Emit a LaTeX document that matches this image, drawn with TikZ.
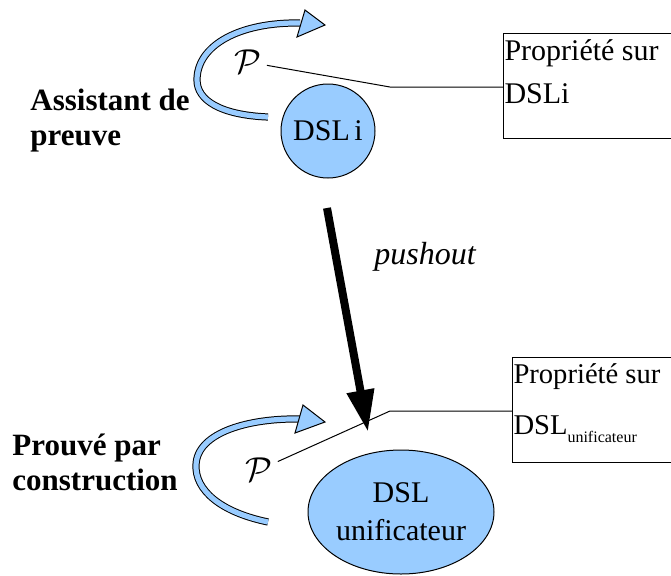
\documentclass[tikz,border=0pt]{standalone}
\usepackage{fontspec}
\setmainfont{Liberation Serif}
\usetikzlibrary{shapes.geometric,arrows.meta,positioning}
\definecolor{dslblue}{RGB}{153,204,255}

\begin{document}
\begin{tikzpicture}[x=0.5pt,y=-0.5pt,
  dsl/.style={draw,line width=0.5pt,fill=dslblue,align=center,inner sep=0pt,font=\fontsize{15}{19}\selectfont},
  propbox/.style={draw,line width=0.5pt,anchor=north west,inner xsep=0.5pt,inner ysep=3pt,font=\fontsize{15}{21.5}\selectfont},
  side/.style={anchor=base west,align=left,inner sep=0pt,font=\bfseries\fontsize{15.5}{17.5}\selectfont},
  prop/.style={inner sep=2.5pt,font=\fontsize{18}{22}\selectfont},
  link/.style={line width=0.5pt},
  bluebend/.style={double=dslblue,double distance=2.6pt,line width=0.5pt}]
\useasboundingbox (0,0) rectangle (671,575);
\begin{scope}
\clip (0,0) rectangle (671,575);
\node[side] (assist) at (30,145) {Assistant de\\preuve};
\node[side] (prouve) at (12,490) {Prouvé par\\construction};
\node[dsl,circle,minimum size=47pt] (dsli) at (328,131) {DSL\hspace{0.15em}i};
\node[dsl,ellipse,minimum width=93pt,minimum height=62pt] (dslu) at (401,512) {DSL\\unificateur};
\node[prop] (ptop) at (248,62) {$\mathcal{P}$};
\node[prop] (pbot) at (259,470) {$\mathcal{P}$};
\node[propbox] (propi) at (503,33) {\parbox[t][46.5pt][t]{86pt}{Propriété sur\\DSLi}};
\node[propbox,font=\fontsize{14.3}{21.5}\selectfont] (propu) at (512,357) {\parbox[t][46.5pt][t]{86pt}{Propriété sur\\[4pt]DSL\raisebox{-4pt}{\fontsize{8}{10}\selectfont unificateur}}};
\coordinate (kneei) at (390,87);
\coordinate (kneeu) at (390,411);
\draw[link] (ptop) -- (kneei) -- (kneei -| propi.west);
\draw[link] (pbot) -- (kneeu) -- (kneeu -| propu.west);
\coordinate (pushfrom) at (327,208);
\coordinate (pushto) at (368,432);
\draw[line width=4pt,-{Triangle[length=21pt,width=13pt]}] (pushfrom) -- (pushto);
\node[font=\itshape\fontsize{16}{19}\selectfont] (push) at (425,257) {pushout};
\draw[bluebend] (268,117) .. controls (220,115) and (197,100) .. (197,80) .. controls (197,45) and (240,22) .. (300,23);
\filldraw[link,fill=dslblue] (305,10) -- (325,25) -- (297,37) -- cycle;
\draw[bluebend] (268,522) .. controls (220,512) and (195,490) .. (196,465) .. controls (197,432) and (250,418) .. (300,419);
\filldraw[link,fill=dslblue] (303,405) -- (325,422) -- (295,433) -- cycle;
\end{scope}
\end{tikzpicture}
\end{document}
